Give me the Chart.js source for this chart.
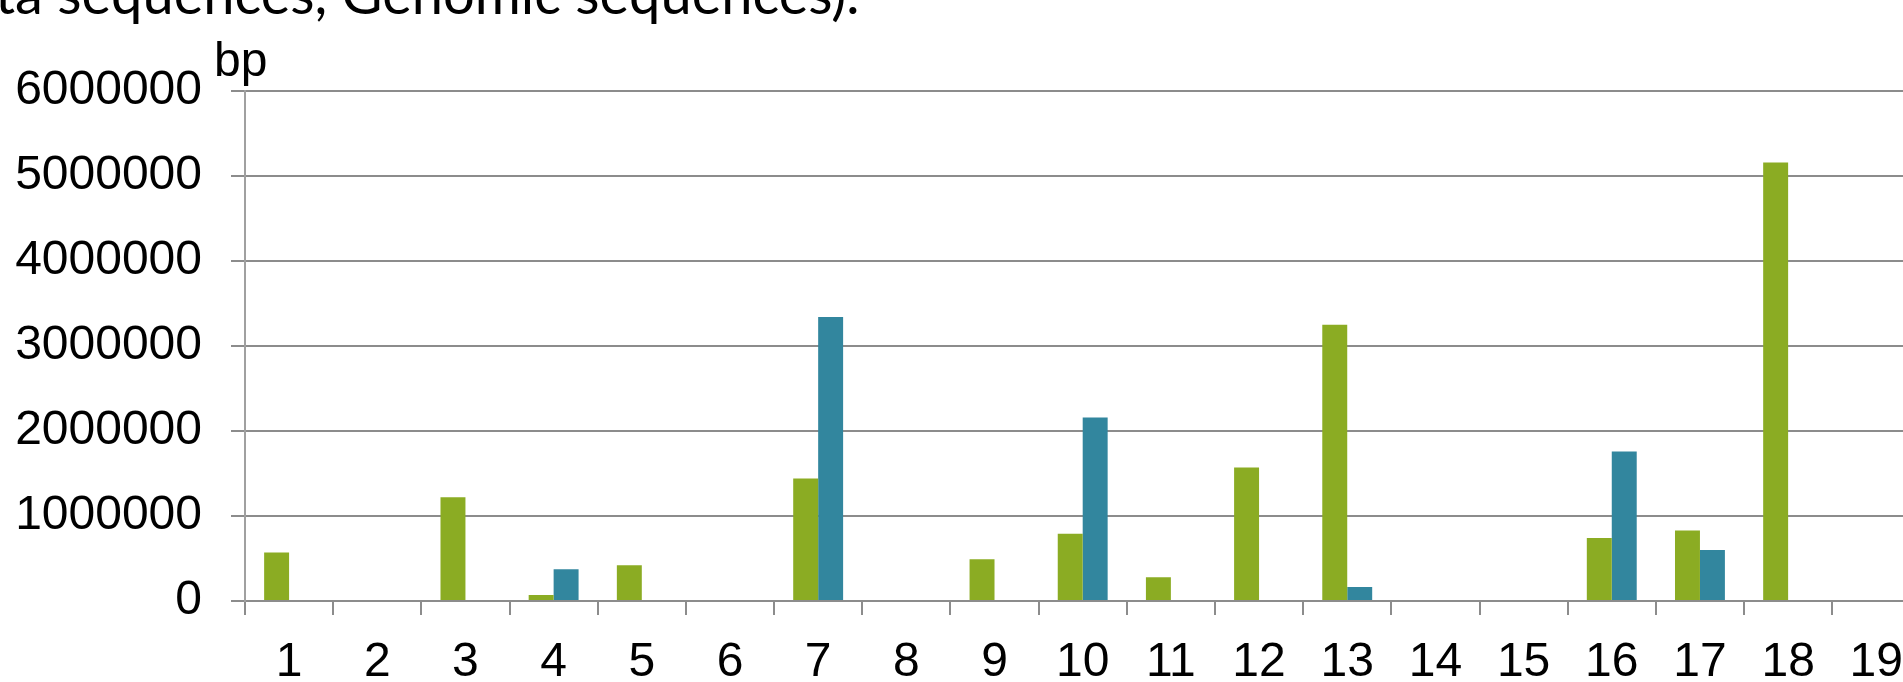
<!DOCTYPE html>
<html>
<head>
<meta charset="utf-8">
<script src="https://cdn.jsdelivr.net/npm/chart.js@4/dist/chart.umd.min.js"></script>
<style>
  html, body { margin: 0; padding: 0; background: #ffffff; overflow: hidden; width: 1903px; height: 682px; }
  #wrap { position: relative; width: 1903px; height: 682px; overflow: hidden; }
  #chart { position: absolute; left: 0; top: 0; }
  .heading { position: absolute; left: -5px; top: -35px; font-family: Lato, "Open Sans", sans-serif; font-size: 56px; line-height: 1; color: #000; white-space: nowrap; }
  .unit { position: absolute; left: 214px; top: 36px; font-family: "Liberation Sans", Arial, sans-serif; font-size: 48px; line-height: 1; color: #000; }
</style>
</head>
<body>
<div id="wrap">
  <div class="heading">ta sequences, Genomic sequences).</div>
  <canvas id="chart" width="1922" height="682"></canvas>
  <div class="unit">bp</div>
</div>
<script>
// Sequence lengths (bp) per group
const categories = ['1','2','3','4','5','6','7','8','9','10','11','12','13','14','15','16','17','18','19'];
const greenValues = [570000, 0, 1220000, 70000, 420000, 0, 1440000, 0, 490000, 790000, 280000, 1570000, 3250000, 0, 0, 740000, 830000, 5160000, 0];
const tealValues  = [0, 0, 0, 375000, 0, 0, 3340000, 0, 0, 2160000, 0, 0, 165000, 0, 0, 1760000, 600000, 0, 0];
const yTicks = [0, 1000000, 2000000, 3000000, 4000000, 5000000, 6000000];

const tickFont = { family: '"Liberation Sans", Arial, sans-serif', size: 48 };
const gridGray = '#8c8c8c';

new Chart(document.getElementById('chart'), {
  type: 'bar',
  data: {
    labels: categories,
    datasets: [
      { data: greenValues, backgroundColor: '#8bac23', borderWidth: 0 },
      { data: tealValues, backgroundColor: '#32869e', borderWidth: 0 }
    ]
  },
  options: {
    responsive: false,
    animation: false,
    devicePixelRatio: 1,
    layout: { padding: { top: 91, left: 0, right: 0, bottom: 0 } },
    plugins: { legend: { display: false }, tooltip: { enabled: false } },
    datasets: { bar: { categoryPercentage: 0.566, barPercentage: 1.0 } },
    scales: {
      x: {
        offset: true,
        grid: { display: true, drawOnChartArea: false, drawTicks: true, tickLength: 14, color: gridGray, lineWidth: 2, offset: true },
        border: { display: true, color: gridGray, width: 2 },
        ticks: { color: '#000', font: tickFont, padding: 19, maxRotation: 0, autoSkip: false },
        afterFit: (s) => { s.height = 81; }
      },
      y: {
        min: 0,
        max: 6000000,
        afterBuildTicks: (s) => { s.ticks = yTicks.map(v => ({ value: v })); },
        grid: { color: gridGray, lineWidth: 2, drawTicks: true, tickLength: 14 },
        border: { display: true, color: '#a0a0a0', width: 2 },
        ticks: { color: '#000', font: tickFont, padding: 29, callback: (v) => String(v) },
        afterFit: (s) => { s.width = 245; }
      }
    }
  }
});
</script>
</body>
</html>
